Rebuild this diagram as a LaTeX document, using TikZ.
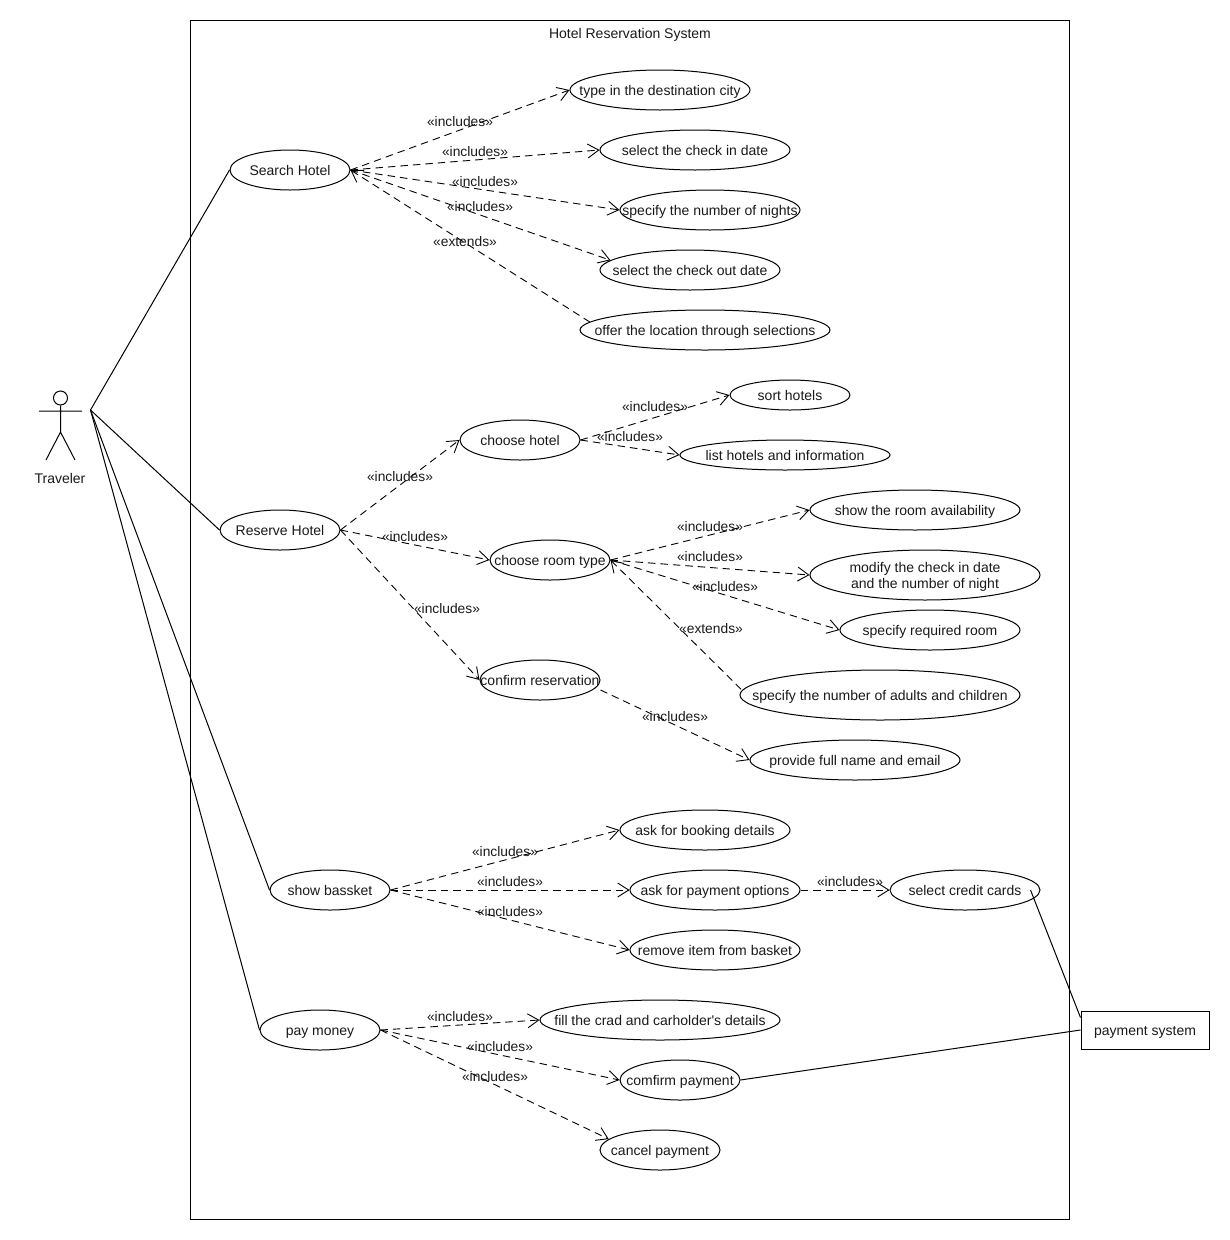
\documentclass[tikz,border=0pt]{standalone}
\usepackage{fontspec}
\setmainfont{Liberation Sans}[Ligatures=TeXOff]
\usetikzlibrary{shapes.geometric,arrows.meta}
\tikzset{
  x=1pt,y=-1pt,
  every node/.style={font=\fontsize{14}{16}\selectfont,text=black!90},
  txt/.style={text height=13pt,text depth=2pt},
  uc/.style={draw,ellipse,inner sep=0pt,line width=1pt},
  stereo/.style={inner sep=0pt,txt,font=\fontsize{13.8}{16}\selectfont},
  solidlink/.style={draw,line width=1pt},
  inc/.style={draw,line width=.9pt,dash pattern=on 7.5pt off 5pt,-{Straight Barb[length=11pt,width=14pt,line width=.9pt]}},
  ext/.style={draw,line width=.9pt,dash pattern=on 7.5pt off 5pt,{Straight Barb[length=11pt,width=14pt,line width=.9pt]}-},
}
\newcommand{\uc}[5]{\node[uc,txt,minimum width=#4pt,minimum height=#5pt] (#1) at (#2) {\makebox[0pt][c]{#3}};}
\newcommand{\lbl}[3]{\node[stereo] (#1) at (#2) {\makebox[0pt][c]{«#3»}};}
\begin{document}
\begin{tikzpicture}
\useasboundingbox (0,0) rectangle (1230,1240);
\node[draw,line width=1pt,minimum width=879pt,minimum height=1199pt,inner sep=0pt] (sys) at (630,619.5) {};
\node[inner sep=0pt,txt] (title) at (630,33) {Hotel Reservation System};
% actor
\node[draw,circle,line width=1pt,minimum size=14pt,inner sep=0pt] (head) at (60.5,398) {};
\coordinate (hip) at (60.5,432);
\coordinate (armL) at (39,411);
\coordinate (armR) at (82,411);
\coordinate (footL) at (46,460);
\coordinate (footR) at (75,460);
\draw[line width=1pt] (head.south) -- (hip) (armL) -- (armR) (footL) -- (hip) -- (footR);
\node[inner sep=0pt,txt] (traveler) at (60,478) {Traveler};
\coordinate (tv) at (90.5,410);
% use cases
\uc{sh}{290,170}{Search Hotel}{120}{40}
\uc{a1}{660,90}{type in the destination city}{180}{40}
\uc{a2}{695,150}{select the check in date}{190}{40}
\uc{a3}{710,210}{specify the number of nights}{180}{40}
\uc{a4}{690,270}{select the check out date}{180}{40}
\uc{a5}{705,330}{offer the location through selections}{250}{40}
\uc{rh}{280,530}{Reserve Hotel}{120}{40}
\uc{ch}{520,440}{choose hotel}{120}{40}
\uc{b1}{790,395}{sort hotels}{120}{30}
\uc{b2}{785,455}{list hotels and information}{210}{30}
\uc{cr}{550,560}{choose room type}{120}{40}
\uc{c1}{915,510}{show the room availability}{210}{40}
\node[uc,align=center,text height=29pt,minimum width=230pt,minimum height=50pt] (c2) at (925,575) {modify the check in date\\and the number of night};
\uc{c3}{930,630}{specify required room}{180}{40}
\uc{c4}{880,695}{specify the number of adults and children}{280}{50}
\uc{co}{540,680}{confirm reservation}{120}{40}
\uc{d1}{855,760}{provide full name and email}{210}{40}
\uc{sb}{330,890}{show bassket}{120}{40}
\uc{e1}{705,830}{ask for booking details}{170}{40}
\uc{e2}{715,890}{ask for payment options}{170}{40}
\uc{e3}{715,950}{remove item from basket}{170}{40}
\uc{e4}{965,890}{select credit cards}{150}{40}
\uc{pm}{320,1030}{pay money}{120}{40}
\uc{f1}{660,1020}{fill the crad and carholder's details}{240}{40}
\uc{f2}{680,1080}{comfirm payment}{120}{40}
\uc{f3}{660,1150}{cancel payment}{120}{40}
\node[draw,line width=1pt,txt,minimum width=128pt,minimum height=38pt,inner sep=0pt] (ps) at (1145,1030) {payment system};
% actor links
\draw[solidlink] (tv) -- (sh.west);
\draw[solidlink] (tv) -- (rh.west);
\draw[solidlink] (tv) -- (sb.west);
\draw[solidlink] (tv) -- (pm.west);
% includes
\draw[inc] (sh.east) -- (a1.west);
\draw[inc] (sh.east) -- (a2.west);
\draw[inc] (sh.east) -- (a3.west);
\draw[inc] (sh.east) -- (a4.173);
\draw[ext] (sh.east) -- (a5.176);
\draw[inc] (rh.east) -- (ch.west);
\draw[inc] (rh.east) -- (cr.west);
\draw[inc] (rh.east) -- (co.west);
\draw[inc] (ch.east) -- (b1.west);
\draw[inc] (ch.east) -- (b2.west);
\draw[inc] (cr.east) -- (c1.west);
\draw[inc] (cr.east) -- (c2.west);
\draw[inc] (cr.east) -- (c3.west);
\draw[ext] (cr.east) -- (c4.178);
\draw[inc] ([yshift=-10pt]co.east) -- (d1.west);
\draw[inc] (sb.east) -- (e1.west);
\draw[inc] (sb.east) -- (e2.west);
\draw[inc] (sb.east) -- (e3.west);
\draw[inc] (e2.east) -- (e4.west);
\draw[inc] (pm.east) -- (f1.west);
\draw[inc] (pm.east) -- (f2.west);
\draw[inc] (pm.east) -- (f3.168);
\draw[solidlink] ([xshift=-10pt]e4.east) -- ([yshift=-7pt]ps.north west);
\draw[solidlink] (f2.east) -- (ps.west);
% labels
\lbl{l1}{460,121}{includes}
\lbl{l2}{475,151}{includes}
\lbl{l3}{485,181}{includes}
\lbl{l4}{480,206}{includes}
\lbl{l5}{465,241}{extends}
\lbl{l6}{655,406}{includes}
\lbl{l7}{630,436}{includes}
\lbl{l8}{400,476}{includes}
\lbl{l9}{415,536}{includes}
\lbl{l10}{447,608}{includes}
\lbl{l11}{710,526}{includes}
\lbl{l12}{710,556}{includes}
\lbl{l13}{725,586}{includes}
\lbl{l14}{711,628}{extends}
\lbl{l15}{675,716}{includes}
\lbl{l16}{505,851}{includes}
\lbl{l17}{510,881}{includes}
\lbl{l18}{510,911}{includes}
\lbl{l19}{850,881}{includes}
\lbl{l20}{460,1016}{includes}
\lbl{l21}{500,1046}{includes}
\lbl{l22}{495,1076}{includes}
\end{tikzpicture}
\end{document}
